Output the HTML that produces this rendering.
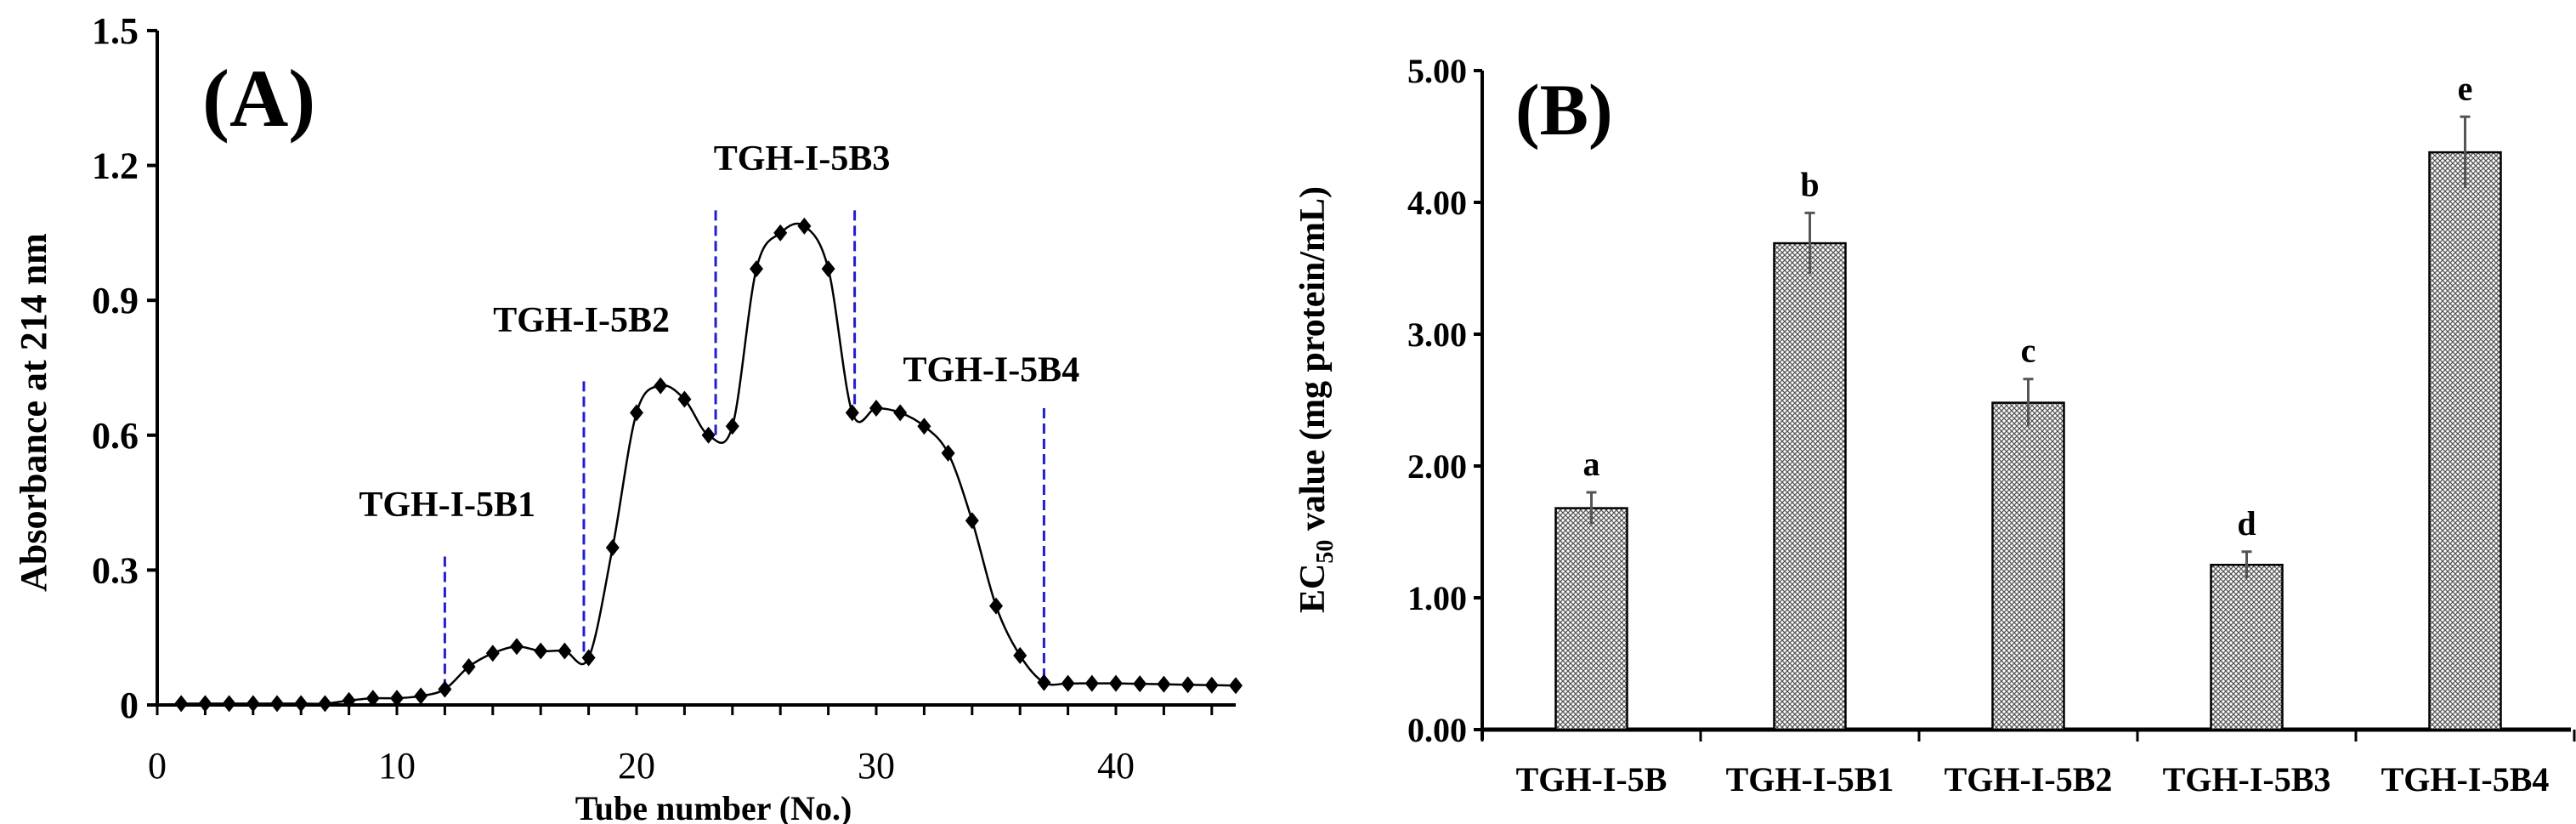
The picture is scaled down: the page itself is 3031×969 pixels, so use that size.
<!DOCTYPE html>
<html><head><meta charset="utf-8">
<style>
html,body{margin:0;padding:0;background:#fff;}
svg{display:block;font-family:"Liberation Serif",serif;}
</style></head>
<body>
<svg id="fig" width="3031" height="969" viewBox="0 0 3031 969">
<defs>
<pattern id="hatch" width="6" height="6" patternUnits="userSpaceOnUse">
<rect width="6" height="6" fill="#fff"/>
<path d="M0,0 L6,6 M6,0 L0,6" stroke="#555" stroke-width="1.3"/>
</pattern>
</defs>
<g id="panelA"></g>
<g id="panelB"></g>
</svg>
<script>
// Panel A data
const tubes = [1,2,3,4,5,6,7,8,9,10,11,12,13,14,15,16,17,18,19,20,21,22,23,24,25,26,27,28,29,30,31,32,33,34,35,36,37,38,39,40,41,42,43,44,45];
const absorbance = [0.003,0.003,0.003,0.003,0.003,0.003,0.003,0.01,0.015,0.015,0.02,0.035,0.085,0.115,0.13,0.12,0.12,0.105,0.35,0.65,0.71,0.68,0.60,0.62,0.97,1.05,1.065,0.97,0.65,0.66,0.65,0.62,0.56,0.41,0.22,0.11,0.05,0.048,0.048,0.048,0.047,0.046,0.045,0.044,0.043];
const yTicksA = [0,0.3,0.6,0.9,1.2,1.5];
const yTickLabelsA = ["0","0.3","0.6","0.9","1.2","1.5"];
const xTicksA = [0,10,20,30,40];
const dividerTubes = [12,17.8,23.3,29.1,37];
const dividerTops = [0.33,0.72,1.10,1.10,0.66];
const fractionLabels = ["TGH-I-5B1","TGH-I-5B2","TGH-I-5B3","TGH-I-5B4"];
const fractionLabelX = [12.1,17.7,26.9,34.8];
const fractionLabelY = [0.42,0.83,1.19,0.72];
// Panel B data
const categories = ["TGH-I-5B","TGH-I-5B1","TGH-I-5B2","TGH-I-5B3","TGH-I-5B4"];
const ec50 = [1.68,3.69,2.48,1.25,4.38];
const ec50Err = [0.12,0.23,0.18,0.10,0.27];
const sigLetters = ["a","b","c","d","e"];
const yTicksB = [0,1,2,3,4,5];
const yTickLabelsB = ["0.00","1.00","2.00","3.00","4.00","5.00"];

const NS="http://www.w3.org/2000/svg";
function mk(parent,tag,attrs,text){const e=document.createElementNS(NS,tag);for(const k in attrs)e.setAttribute(k,attrs[k]);if(text!==undefined)e.textContent=text;parent.appendChild(e);return e;}

// ---------- Panel A ----------
const A=document.getElementById('panelA');
const ax0=185, ay0=829, axW=28.2, ayH=528.7;
const xA=v=>ax0+v*axW, yA=v=>ay0-v*ayH;
let e;
e=mk(A,'line',{x1:xA(0),y1:yA(0),x2:xA(45),y2:yA(0),stroke:'#000','stroke-width':4});

e=mk(A,'line',{x1:xA(0),y1:yA(0)+2,x2:xA(0),y2:yA(1.5),stroke:'#000','stroke-width':4});

yTicksA.forEach((v,i)=>{
  e=mk(A,'line',{x1:xA(0)-12,y1:yA(v),x2:xA(0),y2:yA(v),stroke:'#000','stroke-width':4});
  
  e=mk(A,'text',{x:xA(0)-22,y:yA(v)+15,'text-anchor':'end','font-size':44,'font-weight':'bold'},yTickLabelsA[i]);
  
});
for(let t=0;t<=44;t+=2){
  e=mk(A,'line',{x1:xA(t),y1:yA(0),x2:xA(t),y2:yA(0)+12,stroke:'#000','stroke-width':3});
  
}
xTicksA.forEach(v=>{
  e=mk(A,'text',{x:xA(v),y:915,'text-anchor':'middle','font-size':44},String(v));
  
});
e=mk(A,'text',{x:xA(22.5)+20,y:964,'text-anchor':'middle','font-size':40,'font-weight':'bold'},'Tube number (No.)');

e=mk(A,'text',{x:0,y:0,'text-anchor':'middle','font-size':44,'font-weight':'bold',transform:'translate(54,485) rotate(-90)'},'Absorbance at 214 nm');

e=mk(A,'text',{x:238,y:148,'font-size':96,'font-weight':'bold'},'(A)');

// dividers
dividerTubes.forEach((t,i)=>{
  let idx=Math.min(tubes.length-1,Math.max(0,Math.round(t)-1));
  e=mk(A,'line',{x1:xA(t),y1:yA(dividerTops[i]),x2:xA(t),y2:yA(absorbance[idx]),stroke:'#1f1fd0','stroke-width':3,'stroke-dasharray':'12,6'});
  
});
fractionLabels.forEach((s,i)=>{
  e=mk(A,'text',{x:xA(fractionLabelX[i]),y:yA(fractionLabelY[i]),'text-anchor':'middle','font-size':42,'font-weight':'bold'},s);
  
});
// smooth curve
const pts=tubes.map((t,i)=>[xA(t),yA(absorbance[i])]);
let d=`M${pts[0][0]},${pts[0][1]}`;
for(let i=0;i<pts.length-1;i++){
  const p0=pts[Math.max(0,i-1)],p1=pts[i],p2=pts[i+1],p3=pts[Math.min(pts.length-1,i+2)];
  const c1=[p1[0]+(p2[0]-p0[0])/6,p1[1]+(p2[1]-p0[1])/6];
  const c2=[p2[0]-(p3[0]-p1[0])/6,p2[1]-(p3[1]-p1[1])/6];
  d+=` C${c1[0]},${c1[1]} ${c2[0]},${c2[1]} ${p2[0]},${p2[1]}`;
}
e=mk(A,'path',{d:d,fill:'none',stroke:'#000','stroke-width':2.5});

pts.forEach(p=>{
  e=mk(A,'path',{d:`M${p[0]},${p[1]-10} L${p[0]+8},${p[1]} L${p[0]},${p[1]+10} L${p[0]-8},${p[1]} Z`,fill:'#000'});
  
});

// ---------- Panel B ----------
const B=document.getElementById('panelB');
const bx0=1744, by0=858, byH=155, catW=257, barW=84;
const yB=v=>by0-v*byH, xB=i=>bx0+catW*(i+0.5);
e=mk(B,'line',{x1:bx0,y1:by0,x2:3025,y2:by0,stroke:'#000','stroke-width':5});

e=mk(B,'line',{x1:bx0,y1:by0+12,x2:bx0,y2:yB(5),stroke:'#000','stroke-width':4});

yTicksB.forEach((v,i)=>{
  e=mk(B,'line',{x1:bx0-10,y1:yB(v),x2:bx0,y2:yB(v),stroke:'#000','stroke-width':4});
  
  e=mk(B,'text',{x:bx0-18,y:yB(v)+14,'text-anchor':'end','font-size':40,'font-weight':'bold'},yTickLabelsB[i]);
  
});
for(let i=0;i<=categories.length;i++){
  e=mk(B,'line',{x1:bx0+catW*i,y1:by0,x2:bx0+catW*i,y2:by0+14,stroke:'#000','stroke-width':3});
  
}
categories.forEach((c,i)=>{
  const cx=xB(i);
  e=mk(B,'rect',{x:cx-barW/2,y:yB(ec50[i]),width:barW,height:by0-yB(ec50[i]),fill:'url(#hatch)',stroke:'#000','stroke-width':2.5});
  
  const top=yB(ec50[i]+ec50Err[i]), bot=yB(ec50[i]-ec50Err[i]);
  e=mk(B,'path',{d:`M${cx},${top} L${cx},${bot} M${cx-6},${top} L${cx+6},${top}`,stroke:'#555','stroke-width':3,fill:'none'});
  
  e=mk(B,'text',{x:cx,y:top-20,'text-anchor':'middle','font-size':40,'font-weight':'bold'},sigLetters[i]);
  
  e=mk(B,'text',{x:cx,y:930,'text-anchor':'middle','font-size':40,'font-weight':'bold'},c);
  
});
e=mk(B,'text',{x:0,y:0,'text-anchor':'middle','font-size':42,'font-weight':'bold',transform:'translate(1558,470) rotate(-90)'});

mk(e,'tspan',{},'EC');
mk(e,'tspan',{'font-size':28,dy:10},'50');
mk(e,'tspan',{dy:-10},' value (mg protein/mL)');
e=mk(B,'text',{x:1783,y:158,'font-size':86,'font-weight':'bold'},'(B)');

</script>
</body></html>
